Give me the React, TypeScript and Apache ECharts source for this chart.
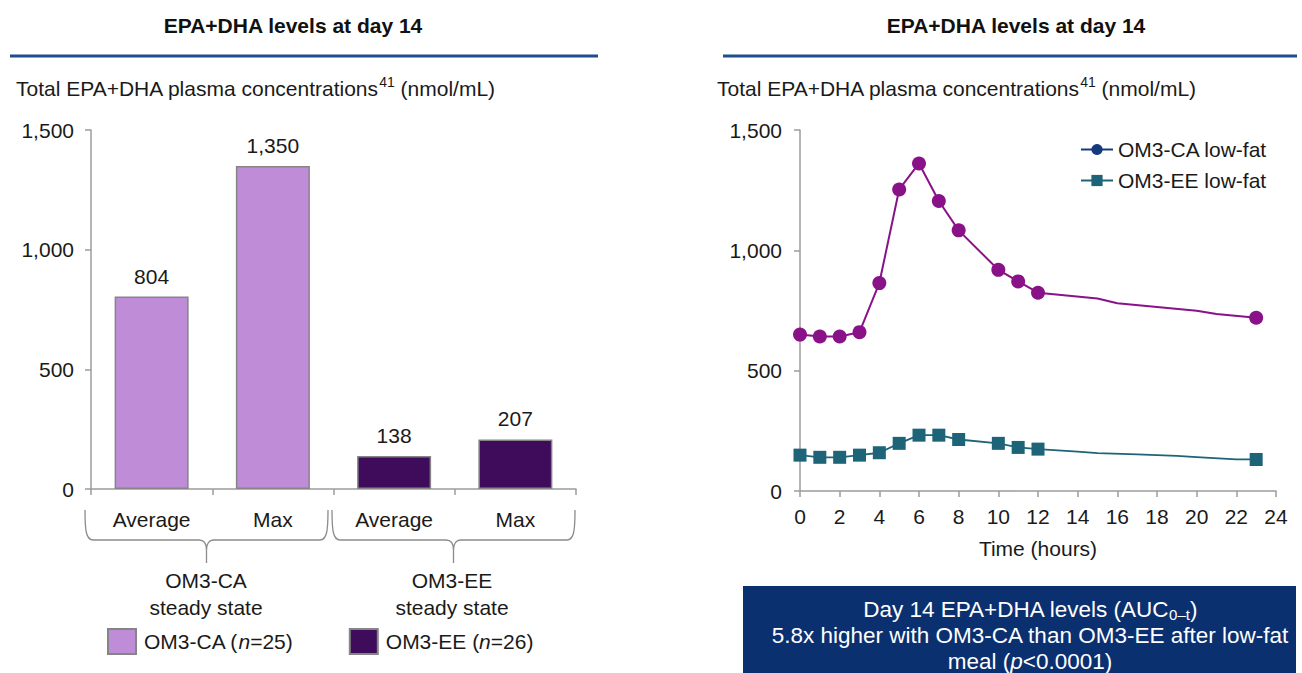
import React, { useEffect, useRef } from "react";
import * as echarts from "echarts";

const FONT = "'Liberation Sans', Arial, Helvetica, sans-serif";
const TXT = "#1a1a1a";
const AX = "#9c9c9c";

// Left panel: bar chart
const barCategories = ["Average", "Max", "Average", "Max"];
const caBars = [804, 1350, null, null];
const eeBars = [null, null, 138, 207];
const barLegend = ["OM3-CA (n=25)", "OM3-EE (n=26)"];
const groupLabels = ["OM3-CA\nsteady state", "OM3-EE\nsteady state"];

// Right panel: time course
const caHours = [0, 1, 2, 3, 4, 5, 6, 7, 8, 10, 11, 12, 15, 16, 20, 21, 23];
const caValues = [650, 642, 642, 660, 864, 1253, 1361, 1205, 1083, 919, 871, 824, 800, 780, 749, 735, 720];
const caMarker = [1, 1, 1, 1, 1, 1, 1, 1, 1, 1, 1, 1, 0, 0, 0, 0, 1];
const eeHours = [0, 1, 2, 3, 4, 5, 6, 7, 8, 10, 11, 12, 14, 15, 17, 19, 20, 22, 23];
const eeValues = [149, 140, 140, 149, 159, 198, 232, 232, 214, 198, 181, 174, 164, 157, 152, 146, 141, 131, 131];
const eeMarker = [1, 1, 1, 1, 1, 1, 1, 1, 1, 1, 1, 1, 0, 0, 0, 0, 0, 0, 1];
const lineNames = ["OM3-CA low-fat", "OM3-EE low-fat"];

const yTicks = { min: 0, max: 1500, interval: 500 };
const xTicks = { min: 0, max: 24, interval: 2 };

const CA_FILL = "#bf8dd8";
const EE_FILL = "#3f0c5b";
const CA_LINE = "#8a1288";
const EE_LINE = "#1d6479";
const NAVY = "#143a7c";
const BLUE = "#1f4e8c";
const BOX = "#0b3070";

const BRACE_D =
  "M0,0 C0,20 1,30 8,30 L114,30 C119,30 121.5,34 121.5,40 L121.5,53 M121.5,40 C121.5,34 124,30 129,30 L235,30 C242,30 243,20 243,0";

let registered = false;
function registerBrace() {
  if (registered) return;
  echarts.graphic.registerShape("brace", echarts.graphic.extendPath(BRACE_D, {}));
  registered = true;
}

const fmt = (v: number) => Number(v).toLocaleString("en-US");

function txt(x: number, y: number, text: string, extra: any = {}) {
  return {
    type: "text",
    x,
    y,
    silent: true,
    style: {
      text,
      fontFamily: FONT,
      fontSize: 21,
      fill: TXT,
      align: "center",
      textAlign: "center",
      verticalAlign: "middle",
      textVerticalAlign: "middle",
      ...extra,
    },
  };
}

export default function App() {
  const ref = useRef<HTMLDivElement>(null);
  useEffect(() => {
    document.body.style.margin = "0";
    registerBrace();
    const chart = echarts.init(ref.current!, null, { renderer: "svg" });
    const axisLine = { show: true, lineStyle: { color: AX, width: 1.5 } };
    const axisTick = { show: true, length: 6, lineStyle: { color: AX, width: 1.5 } };
    const boxFont = 22.5;
    const option: any = {
      animation: false,
      textStyle: { fontFamily: FONT },
      grid: [
        { left: 91, top: 130, width: 485, height: 359 },
        { left: 800, top: 130, width: 476, height: 361 },
      ],
      xAxis: [
        {
          gridIndex: 0,
          type: "category",
          data: barCategories,
          axisLine,
          axisTick,
          axisLabel: { fontSize: 21, color: TXT, margin: 20 },
        },
        {
          gridIndex: 1,
          type: "value",
          ...xTicks,
          axisLine,
          axisTick,
          splitLine: { show: false },
          axisLabel: { fontSize: 21, color: TXT, margin: 15 },
          name: "Time (hours)",
          nameLocation: "middle",
          nameGap: 47,
          nameTextStyle: { fontSize: 21, color: TXT },
        },
      ],
      yAxis: [
        {
          gridIndex: 0,
          type: "value",
          ...yTicks,
          axisLine,
          axisTick,
          splitLine: { show: false },
          axisLabel: { fontSize: 21, color: TXT, margin: 17, formatter: fmt },
        },
        {
          gridIndex: 1,
          type: "value",
          ...yTicks,
          axisLine,
          axisTick,
          splitLine: { show: false },
          axisLabel: { fontSize: 21, color: TXT, margin: 18, formatter: fmt },
        },
      ],
      legend: [
        {
          data: barLegend,
          left: 102,
          top: 623,
          icon: "rect",
          itemWidth: 28,
          itemHeight: 25,
          itemGap: 56,
          formatter: (name: string) => {
            const m = name.match(/^(.*\()n(=.*)$/);
            return m ? `{p|${m[1]}}{i|n}{a|${m[2]}}` : name;
          },
          textStyle: {
            rich: {
              p: { fontSize: 21, color: TXT, fontFamily: FONT, padding: [0, 0, 0, 3] },
              a: { fontSize: 21, color: TXT, fontFamily: FONT },
              i: { fontSize: 21, color: TXT, fontFamily: FONT, fontStyle: "italic" },
            },
          },
        },
        {
          data: [
            { name: lineNames[0], itemStyle: { color: NAVY }, lineStyle: { color: NAVY, width: 2 } },
            { name: lineNames[1], itemStyle: { color: EE_LINE }, lineStyle: { color: EE_LINE, width: 2 } },
          ],
          orient: "vertical",
          left: 1075,
          top: 134,
          itemWidth: 32,
          itemHeight: 14,
          itemGap: 10,
          textStyle: { fontSize: 21, color: TXT },
        },
      ],
      series: [
        {
          type: "bar",
          name: barLegend[0],
          xAxisIndex: 0,
          yAxisIndex: 0,
          data: caBars,
          barWidth: 74,
          barGap: "-100%",
          itemStyle: { color: CA_FILL, borderColor: "#858585", borderWidth: 1.5 },
          label: { show: true, position: "top", distance: 10, fontSize: 21, color: TXT, formatter: (p: any) => fmt(p.value) },
        },
        {
          type: "bar",
          name: barLegend[1],
          xAxisIndex: 0,
          yAxisIndex: 0,
          data: eeBars,
          barWidth: 74,
          barGap: "-100%",
          itemStyle: { color: EE_FILL, borderColor: "#858585", borderWidth: 1.5 },
          label: { show: true, position: "top", distance: 10, fontSize: 21, color: TXT, formatter: (p: any) => fmt(p.value) },
        },
        {
          type: "line",
          name: lineNames[0],
          xAxisIndex: 1,
          yAxisIndex: 1,
          data: caHours.map((h, i) => ({ value: [h, caValues[i]], symbol: caMarker[i] ? "circle" : "none" })),
          symbol: "circle",
          symbolSize: 14,
          lineStyle: { color: CA_LINE, width: 2 },
          itemStyle: { color: CA_LINE },
        },
        {
          type: "line",
          name: lineNames[1],
          xAxisIndex: 1,
          yAxisIndex: 1,
          data: eeHours.map((h, i) => ({ value: [h, eeValues[i]], symbol: eeMarker[i] ? "rect" : "none" })),
          symbol: "rect",
          symbolSize: 13,
          lineStyle: { color: EE_LINE, width: 1.8 },
          itemStyle: { color: EE_LINE },
        },
      ],
      graphic: [
        txt(293, 25, "EPA+DHA levels at day 14", { fontWeight: "bold", fontSize: 21, fill: "#111" }),
        txt(1016, 25, "EPA+DHA levels at day 14", { fontWeight: "bold", fontSize: 21, fill: "#111" }),
        { type: "line", silent: true, shape: { x1: 10, y1: 56, x2: 598, y2: 56 }, style: { stroke: BLUE, lineWidth: 3 } },
        { type: "line", silent: true, shape: { x1: 723, y1: 56, x2: 1297, y2: 56 }, style: { stroke: BLUE, lineWidth: 3 } },
        txt(16, 88, "Total EPA+DHA plasma concentrations{sup|41} (nmol/mL)", {
          align: "left",
          textAlign: "left",
          fontSize: 21,
          lineHeight: 26,
          rich: { sup: { fontSize: 14, lineHeight: 14, verticalAlign: "top", fontFamily: FONT, fill: TXT } },
        }),
        txt(717, 88, "Total EPA+DHA plasma concentrations{sup|41} (nmol/mL)", {
          align: "left",
          textAlign: "left",
          fontSize: 21,
          lineHeight: 26,
          rich: { sup: { fontSize: 14, lineHeight: 14, verticalAlign: "top", fontFamily: FONT, fill: TXT } },
        }),
        { type: "brace", silent: true, x: 85, y: 510, style: { stroke: "#8c8c8c", fill: "none", lineWidth: 1.3 } },
        { type: "brace", silent: true, x: 332, y: 510, style: { stroke: "#8c8c8c", fill: "none", lineWidth: 1.3 } },
        txt(206, 594, groupLabels[0], { lineHeight: 27 }),
        txt(452, 594, groupLabels[1], { lineHeight: 27 }),
        { type: "rect", silent: true, shape: { x: 743, y: 586, width: 553, height: 95 }, style: { fill: BOX } },
        txt(1030, 609, "Day 14 EPA+DHA levels (AUC{sub|0–t})", {
          fill: "#ffffff",
          fontSize: boxFont,
          lineHeight: 26,
          rich: { sub: { fontSize: 15, lineHeight: 15, verticalAlign: "bottom", fontFamily: FONT, fill: "#ffffff" } },
        }),
        txt(1030, 635, "5.8x higher with OM3-CA than OM3-EE after low-fat", { fill: "#ffffff", fontSize: boxFont }),
        txt(1030, 661, "meal ({i|p}<0.0001)", {
          fill: "#ffffff",
          fontSize: boxFont,
          rich: { i: { fontSize: boxFont, fontStyle: "italic", fontFamily: FONT, fill: "#ffffff" } },
        }),
      ],
    };
    chart.setOption(option);
    return () => chart.dispose();
  }, []);
  return <div ref={ref} style={{ width: 1302, height: 673 }} />;
}
